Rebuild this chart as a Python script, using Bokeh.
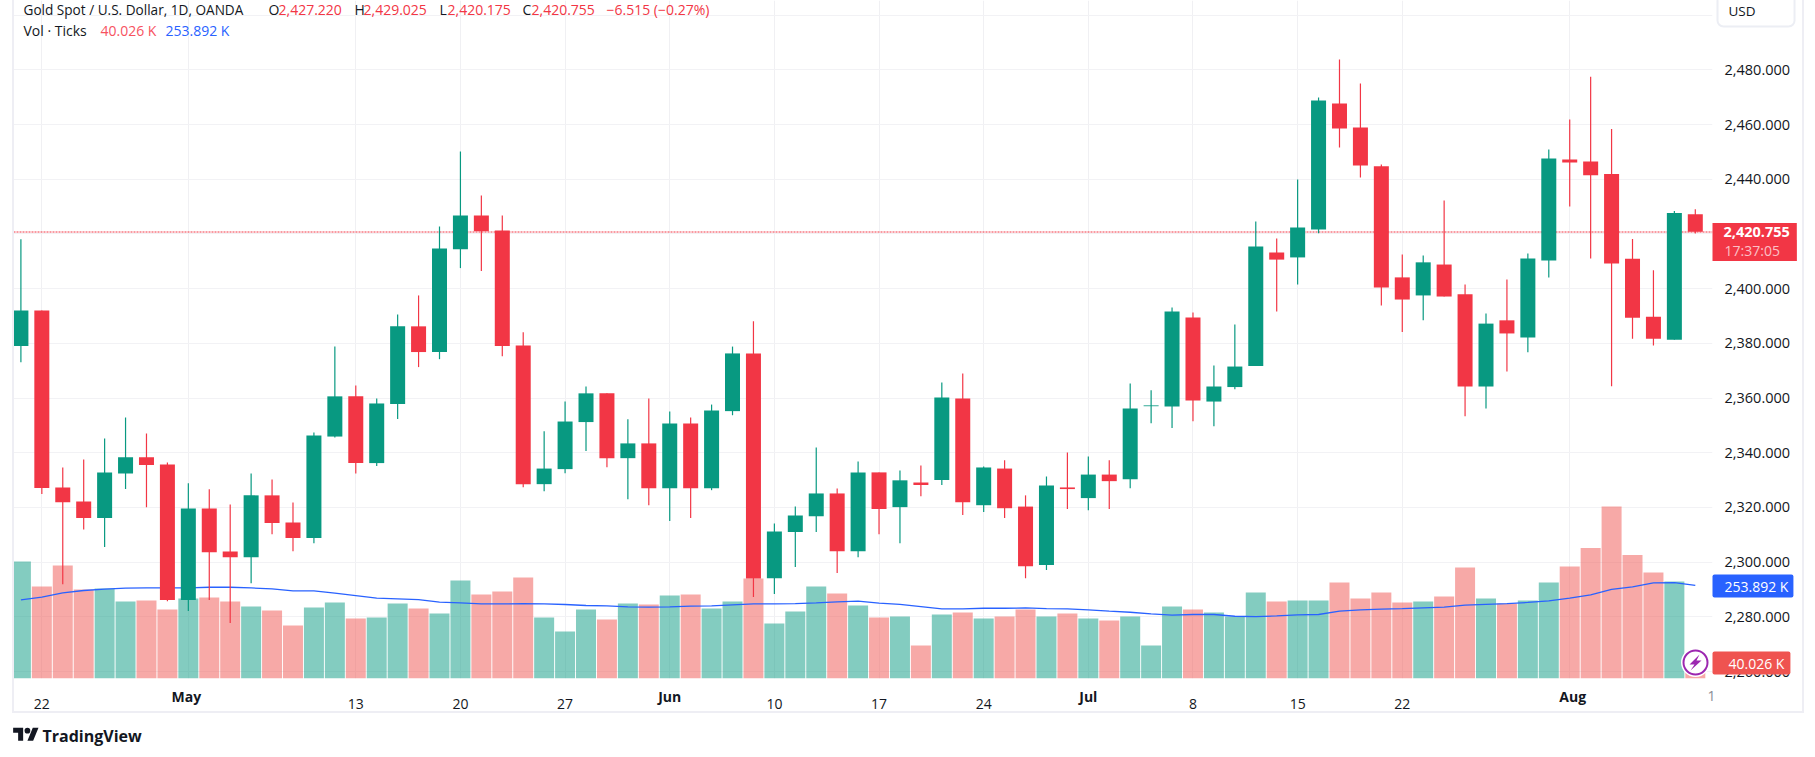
from bokeh.embed import file_html
from bokeh.resources import INLINE
from bokeh.plotting import figure
from bokeh.models import (Range1d, LinearAxis, FixedTicker, Span, Label, InlineStyleSheet,
                          PolyAnnotation, ColumnDataSource, NumeralTickFormatter)

opens = [2379, 2392, 2327.3, 2322.2, 2316.1, 2332.4, 2338.3, 2335.7, 2286.1, 2319.6, 2303.9, 2301.8, 2324.4, 2314.5, 2308.8, 2345.9, 2360.6, 2336.2, 2357.8, 2386.2, 2376.8, 2414.4, 2426.7, 2421.2, 2379.2, 2328.5, 2334, 2351.2, 2361.7, 2338,
         2343.4, 2327, 2350.7, 2327, 2355.2, 2376.3, 2294.1, 2311, 2316.8, 2325.1, 2304, 2332.8, 2320.1, 2329.1, 2330, 2359.8, 2320.8, 2334.2, 2320.3, 2298.9, 2327.3, 2323.4, 2332, 2330.3, 2357, 2356.9, 2389.4, 2358.7, 2364, 2371.7,
         2413.2, 2411.4, 2421.6, 2467.7, 2458.9, 2444.7, 2404.1, 2397.5, 2408.8, 2397.9, 2364.2, 2388.4, 2382.1, 2410.3, 2447.2, 2446.5, 2441.9, 2410.9, 2389.7, 2381.3, 2427.22]
closes = [2392, 2327.1, 2321.9, 2316.1, 2332.8, 2338.3, 2335.5, 2286.1, 2319.6, 2303.6, 2301.8, 2324.4, 2314.3, 2308.8, 2346.3, 2360.6, 2336.2, 2358, 2386.2, 2376.8, 2414.7, 2426.7, 2421, 2379, 2328.5, 2334.2, 2351.4, 2361.7, 2338, 2343.4,
          2327, 2350.7, 2327, 2355.4, 2376.3, 2294, 2311.2, 2317, 2325.1, 2304, 2332.8, 2319.4, 2329.9, 2328.2, 2360.2, 2321.9, 2334.6, 2319.7, 2298.5, 2328, 2326.7, 2332, 2329.6, 2356.2, 2357.3, 2391.6, 2359.1, 2364.2, 2371.5, 2415.4,
          2410.6, 2422.3, 2468.8, 2458.5, 2445, 2400.4, 2396, 2409.6, 2397.1, 2364.2, 2387.2, 2383.6, 2411, 2447.6, 2446.1, 2441.4, 2409.2, 2389.3, 2381.7, 2427.6, 2420.755]
highs = [2418, 2392, 2334.6, 2337.5, 2345.2, 2352.9, 2347, 2336.4, 2328.8, 2326.6, 2321.1, 2332.4, 2330.2, 2321.8, 2347.4, 2378.8, 2364.6, 2359.8, 2390.5, 2397.5, 2422.7, 2450.1, 2434, 2426.7, 2384, 2347.8, 2358.7, 2364.2, 2361.7, 2352.2,
         2359.8, 2355.1, 2352.9, 2357.6, 2378.8, 2388.1, 2314.1, 2320.3, 2341.9, 2326.9, 2336.8, 2332.8, 2333.5, 2335.3, 2365.7, 2369, 2335, 2337.2, 2324.4, 2331.3, 2340.1, 2338.6, 2337.2, 2365.3, 2362.8, 2393.1, 2391.3, 2371.9, 2386.9, 2424.5,
         2418.3, 2439.9, 2469.9, 2483.8, 2475, 2445.4, 2412.5, 2412.1, 2432.2, 2401.5, 2390.9, 2403.3, 2412.8, 2450.9, 2461.8, 2477.5, 2458.4, 2418.1, 2406.7, 2428.4, 2429.025]
lows = [2373.1, 2324.9, 2291.9, 2311.9, 2305.5, 2326.7, 2320.1, 2285.7, 2282.1, 2286.1, 2277.7, 2292.3, 2310.2, 2304, 2306.9, 2345.6, 2332.4, 2335.1, 2352.3, 2371.3, 2374.2, 2407.5, 2406.4, 2375.3, 2327.4, 2325.9, 2332.5, 2340.6, 2334.7, 2323,
        2320.8, 2315, 2316.1, 2326.3, 2353.7, 2287.2, 2288.3, 2298.2, 2311, 2296, 2301.8, 2310.2, 2306.9, 2324.1, 2328.2, 2317.2, 2318.3, 2316.1, 2294.1, 2297.1, 2319.4, 2319, 2319.4, 2327, 2350.8, 2349, 2351.5, 2349.7, 2363.2, 2371.7,
        2391.6, 2401.5, 2420.2, 2451.6, 2440.6, 2393.8, 2384.1, 2388.4, 2397.1, 2353.3, 2356.2, 2369.7, 2376.7, 2404.1, 2430, 2411, 2364.3, 2381.7, 2379.2, 2381.3, 2420.175]
volumes = [320, 251, 309, 243, 245.5, 209.6, 212.4, 187.6, 218, 220.7, 209.6, 195.8, 184.8, 143.4, 193, 206.9, 162.8, 165.5, 204.1, 190.3, 176.5, 267.6, 229, 237.2, 275.8, 165.5, 126.9, 187.6, 160, 204.1,
           201.4, 226.2, 229, 190.3, 209.6, 273.1, 149, 182.1, 251, 231.7, 198.6, 165.5, 168.3, 88.3, 173.8, 179.3, 162.8, 168.3, 187.6, 168.3, 176.5, 162.8, 157.2, 168.3, 88.3, 195.8, 187.6, 179.3, 168.3, 234.5,
           209.6, 212.4, 212.4, 262, 218, 234.5, 206.9, 209.6, 223.4, 303.4, 218, 204.1, 212.4, 262, 306, 357, 472, 338, 290, 265, 40.026]
vol_ma = [214, 221.6, 233.6, 240, 243.7, 246.4, 247, 247, 247, 249, 249, 247, 244.6, 239, 239, 232.6, 226, 218.8, 217, 215, 207.8, 206, 203, 203, 204, 203, 201.4, 198.6, 197.7, 195,
          194, 195, 196.8, 197.7, 200.5, 203, 203, 204, 206, 208.7, 210.6, 205, 202, 195.8, 189.4, 189.4, 191, 191, 192, 190, 189.4, 186.6, 183, 180, 175.6, 172, 173.8, 173.8, 169, 168,
          170, 173, 173.8, 183, 186.6, 188.5, 190, 192, 194, 199.5, 202, 204, 207, 211.5, 218.8, 228, 243, 250, 261, 262, 253.892]
price_ticks = [2260, 2280, 2300, 2320, 2340, 2360, 2380, 2400, 2440, 2460, 2480]
grid_prices = [2260, 2280, 2300, 2320, 2340, 2360, 2380, 2400, 2420, 2440, 2460, 2480, 2500]
day_ticks = [1, 16, 21, 26, 36, 41, 46, 56, 61, 66]
day_labels = ["22", "13", "20", "27", "10", "17", "24", "8", "15", "22"]
month_ticks = [8, 31, 51, 74]
month_labels = ["May", "Jun", "Jul", "Aug"]
last_price = 2420.755

GREEN, RED, BLUE = "#089981", "#F23645", "#2962FF"
INK = "#131722"
FONT = "Open Sans"
BORDER = "#eeeef4"


def X(px):
    return (px - 20.4) / 20.93


def Y(py):
    return 2480 - (py - 69.3) / 2.735


n = len(opens)
idx = list(range(n))
up = [c >= o for o, c in zip(opens, closes)]
candle_colors = [GREEN if u else RED for u in up]
bar_colors = ["#089981" if u else "#EF5350" for u in up]

p = figure(width=1815, height=757, frame_width=1699, frame_height=678,
           output_backend="svg", toolbar_location=None,
           x_range=Range1d(X(13), X(1712)), y_range=Range1d(Y(678), Y(0)),
           x_axis_location=None, y_axis_location=None,
           min_border_left=13, min_border_right=103, min_border_top=0, min_border_bottom=79,
           outline_line_color=None, background_fill_color="white", border_fill_color="white")

LOGO = ("data:image/svg+xml,%3Csvg xmlns='http://www.w3.org/2000/svg' viewBox='0 0 36 28'%3E"
        "%3Cpath fill='%23131722' d='M14 22H7V11H0V4h14v18zM28 22h-8l7.5-18h8L28 22z'/%3E"
        "%3Ccircle fill='%23131722' cx='20' cy='8' r='4'/%3E%3C/svg%3E")
p.stylesheets = [InlineStyleSheet(css=(
    ":host{position:relative;}"
    ":host::after{content:'';position:absolute;left:12px;top:-2px;width:1788px;height:713px;"
    "border:2px solid %s;border-top:none;pointer-events:none;}"
    ":host::before{content:'';position:absolute;left:13px;top:725px;width:26px;height:20px;z-index:2;"
    "background:url(\"%s\") no-repeat center/contain;}" % (BORDER, LOGO)))]

vol_start = -1 / 0.3625
p.extra_y_ranges = {"vol": Range1d(vol_start, 677 / 0.3625)}

# axes
right = LinearAxis(ticker=FixedTicker(ticks=price_ticks), formatter=NumeralTickFormatter(format="0,0.000"))
right.axis_line_color = None
right.major_tick_line_color = None
right.minor_tick_line_color = None
right.major_label_text_font = FONT
right.major_label_text_font_size = "14.5px"
right.major_label_text_color = INK
right.major_label_standoff = 6
p.add_layout(right, "right")

bottom = LinearAxis(ticker=FixedTicker(ticks=day_ticks + month_ticks),
                    major_label_overrides={**dict(zip(day_ticks, day_labels)), **{m: " " for m in month_ticks}})
bottom.axis_line_color = None
bottom.major_tick_line_color = None
bottom.minor_tick_line_color = None
bottom.major_label_text_font = FONT
bottom.major_label_text_font_size = "14px"
bottom.major_label_text_color = INK
bottom.major_label_standoff = 9
p.add_layout(bottom, "below")

p.xgrid.ticker = FixedTicker(ticks=sorted(day_ticks + month_ticks))
p.ygrid.ticker = FixedTicker(ticks=grid_prices)
p.xgrid.grid_line_color = "#f0f0f3"
p.ygrid.grid_line_color = "#f2f2f5"
p.xgrid.grid_line_width = 1
p.ygrid.grid_line_width = 1

# snapped to the pixel row that holds the last price, so the dots stay crisp
p.add_layout(Span(location=Y(231.5), dimension="width", line_color=RED, line_width=1,
                  line_dash="2 1", level="underlay"))

src = ColumnDataSource(dict(x=idx, o=opens, c=closes, h=highs, l=lows, v=volumes,
                            b=[vol_start] * n, ma=vol_ma,
                            top=[max(a, b) for a, b in zip(opens, closes)],
                            bot=[min(a, b) for a, b in zip(opens, closes)],
                            cc=candle_colors, bc=bar_colors))
p.vbar(x="x", width=0.955, top="v", bottom="b", source=src, y_range_name="vol",
       fill_color="bc", fill_alpha=0.5, line_color=None)
p.line(x="x", y="ma", source=src, y_range_name="vol", line_color=BLUE, line_width=1.3)
p.segment(x0="x", x1="x", y0="h", y1="l", source=src, line_color="cc", line_width=1.2)
p.vbar(x="x", width=0.717, top="top", bottom="bot", source=src, fill_color="cc", line_color=None)


def text(px, py, s, color=INK, size="14px", bold=False, align="left", bg=None, pad=0, radius=0, border=None):
    # pad is (left, right, top, bottom)
    p.add_layout(Label(x=px, y=py, x_units="canvas", y_units="canvas", text=s, text_color=color,
                       text_font=FONT, text_font_size=size,
                       text_font_style="bold" if bold else "normal", text_align=align,
                       text_baseline="middle", level="annotation",
                       background_fill_color=bg, padding=pad, border_radius=radius,
                       border_line_color=border, border_line_width=2), "below")


# month labels (bold) and clipped next tick on the time axis
for t, s, nudge in zip(month_ticks, month_labels, [-2, 0, 0, 3]):
    text(20.4 + 20.93 * t + nudge, 695.5, s, bold=True, align="center")
text(1711, 695.5, "1", color="#8a8d96", align="center")

# USD box
text(1717, 10, "USD", size="13.5px", bg="white", pad=(11, 39, 7, 7), radius=6, border="#eceef4")

# price tags
text(1712, 231, f"{last_price:,.3f}", color="white", size="14.5px", bold=True, bg=RED, pad=(11, 7, 4, 3))
text(1712, 250, "17:37:05", color="#fbc0c6", size="14px", bg=RED, pad=(12, 17, 1, 1))
text(1712, 585.5, "253.892 K", color="white", size="14px", bg=BLUE, pad=(12, 5, 2, 2), radius=2)
text(1712, 662.5, "40.026 K", color="white", size="14px", bg="#EF5350", pad=(16, 6, 2, 2), radius=2)

# bolt button
p.scatter(x=[X(1695)], y=[Y(662)], size=27, marker="circle", fill_color="white", line_color="white", line_width=2)
p.scatter(x=[X(1695)], y=[Y(662)], size=24, marker="circle", fill_color="white", line_color="#9C27B0", line_width=2)
p.add_layout(PolyAnnotation(xs=[1699, 1689, 1694, 1690, 1701, 1696], ys=[654, 664, 664, 670, 660, 660],
                            xs_units="canvas", ys_units="canvas", fill_color="#9C27B0", fill_alpha=1,
                            line_color=None, level="annotation"))

# header legend
text(23, 9, "Gold Spot / U.S. Dollar, 1D, OANDA", size="13.6px")
for px, s in [(268, "O"), (354, "H"), (439, "L"), (522, "C")]:
    text(px, 9, s, size="14px")
for px, s in [(278, "2,427.220"), (363, "2,429.025"), (447, "2,420.175"), (531, "2,420.755"), (606, "\u22126.515 (\u22120.27%)")]:
    text(px, 9, s, color=RED, size="14px")
text(23, 30, "Vol \u00b7 Ticks", size="14px")
text(100, 30, "40.026 K", color="#F7525F", size="14px")
text(165, 30, "253.892 K", color=BLUE, size="14px")

# footer logo wordmark
text(42, 735, "TradingView", size="16px", bold=True)

open("out.html", "w").write(file_html(p, INLINE))
